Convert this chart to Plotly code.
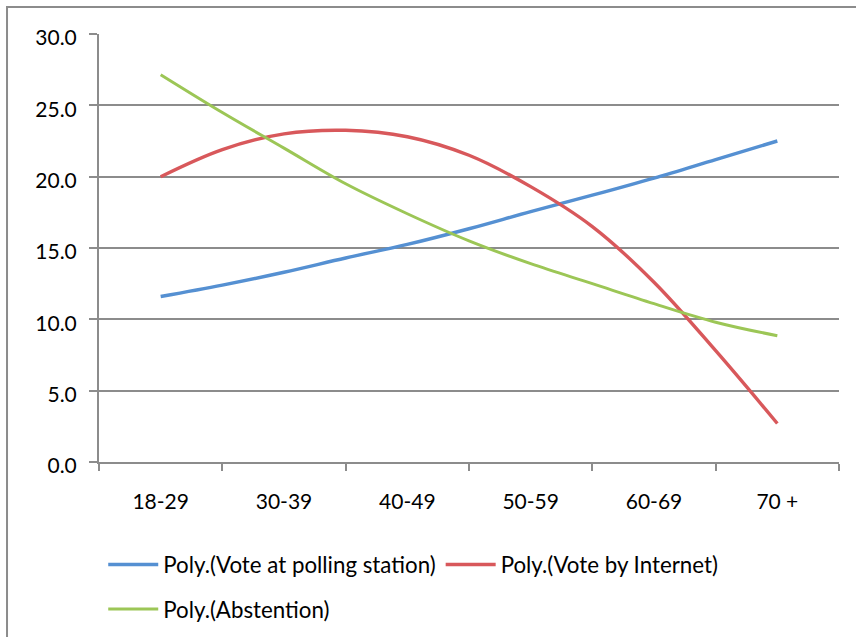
import plotly.graph_objects as go

# Category labels of the x axis
categories = ["18-29", "30-39", "40-49", "50-59", "60-69", "70 +"]
cat_pos = [0, 1, 2, 3, 4, 5]

# Trendline values at every half category step
x_read = [0, 0.5, 1, 1.5, 2, 2.5, 3, 3.5, 4, 4.5, 5]
polling_station = [11.6, 12.4, 13.3, 14.3, 15.25, 16.35, 17.55, 18.7, 19.9, 21.2, 22.5]
internet = [20.0, 21.9, 23.0, 23.25, 22.8, 21.5, 19.3, 16.5, 12.6, 7.8, 2.7]
abstention = [27.15, 24.5, 22.0, 19.5, 17.4, 15.5, 13.9, 12.5, 11.1, 9.8, 8.85]

y_ticks = [0, 5, 10, 15, 20, 25, 30]
boundaries = [-0.5, 0.5, 1.5, 2.5, 3.5, 4.5, 5.5]

FONT = "Lato"
GRID = "#8c8c8c"

fig = go.Figure()
fig.add_trace(go.Scatter(x=x_read, y=polling_station, mode="lines",
                         name="Poly.(Vote at polling station)",
                         line=dict(color="#5590D2", width=3.4, shape="spline"),
                         legend="legend"))
fig.add_trace(go.Scatter(x=x_read, y=internet, mode="lines",
                         name="Poly.(Vote by Internet)",
                         line=dict(color="#D8585B", width=3.4, shape="spline"),
                         legend="legend"))
fig.add_trace(go.Scatter(x=x_read, y=abstention, mode="lines",
                         name="Poly.(Abstention)",
                         line=dict(color="#9CC656", width=3, shape="spline"),
                         legend="legend2"))

legend_font = dict(family=FONT, size=22.3, color="black")

fig.update_layout(
    width=856, height=637,
    margin=dict(l=99, r=17, t=34, b=175, autoexpand=False),
    paper_bgcolor="white", plot_bgcolor="white",
    font=dict(family=FONT, size=21, color="black"),
    showlegend=True,
    legend=dict(orientation="h", xref="container", yref="container",
                x=0.1206, xanchor="left", y=0.1468, yanchor="top",
                font=legend_font, itemwidth=50,
                bgcolor="rgba(0,0,0,0)", traceorder="normal"),
    legend2=dict(orientation="h", xref="container", yref="container",
                 x=0.1206, xanchor="left", y=0.0770, yanchor="top",
                 font=legend_font, itemwidth=50,
                 bgcolor="rgba(0,0,0,0)"),
    xaxis=dict(range=[-0.5, 5.5], tickmode="array", tickvals=cat_pos, ticktext=categories,
               ticks="", showgrid=False, zeroline=False, automargin=False,
               showline=True, linecolor=GRID, linewidth=2,
               ticklabelstandoff=20,
               tickfont=dict(family=FONT, size=21, color="black"),
               minor=dict(tickmode="array", tickvals=boundaries, ticks="outside",
                          ticklen=7, tickwidth=2, tickcolor=GRID, showgrid=False)),
    yaxis=dict(range=[0, 30], tickmode="array", tickvals=y_ticks, tickformat=".1f",
               ticks="outside", ticklen=8, tickwidth=2, tickcolor=GRID,
               showgrid=True, gridcolor=GRID, gridwidth=2, zeroline=False, automargin=False,
               showline=True, linecolor=GRID, linewidth=2,
               ticklabelstandoff=8, ticklabelshift=4,
               tickfont=dict(family=FONT, size=21, color="black")),
    shapes=[dict(type="rect", xref="paper", yref="paper",
                 x0=-0.1243, x1=1.5, y0=-1.0, y1=1.063,
                 line=dict(color=GRID, width=2), fillcolor="rgba(0,0,0,0)", layer="below")],
)

fig.write_html("out.html", config={"displayModeBar": False},
               post_script="document.body.style.margin='0px';")
